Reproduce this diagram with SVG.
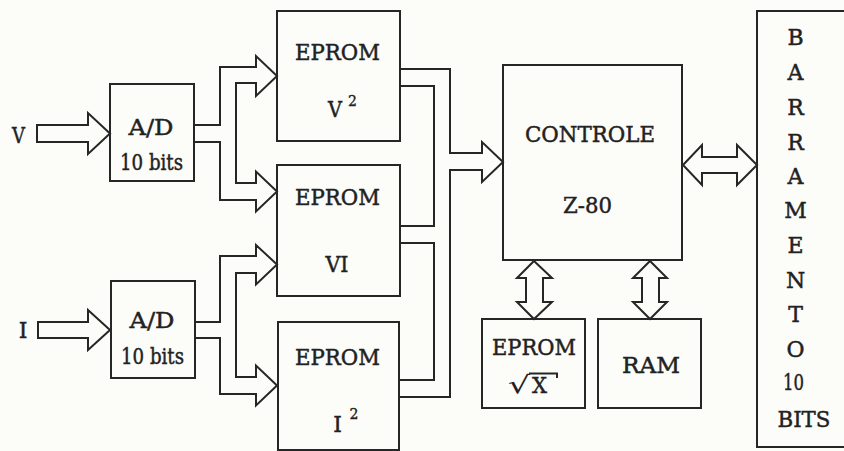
<svg xmlns="http://www.w3.org/2000/svg" width="844" height="451" viewBox="0 0 844 451">
<style>
.box{fill:none;stroke:#262626;stroke-width:2}
.bus{fill:none;stroke:#262626;stroke-width:2;stroke-linejoin:miter}
.t{font-family:"DejaVu Serif","Liberation Serif",serif;font-size:22px;fill:#222;stroke:#222;stroke-width:0.45;text-anchor:middle}
.s{font-family:"DejaVu Serif","Liberation Serif",serif;font-size:14px;fill:#222;stroke:#222;stroke-width:0.35;text-anchor:middle}
.r{font-family:"DejaVu Sans","Liberation Sans",sans-serif;font-size:24px;fill:#222;text-anchor:middle}
</style>
<rect x="0" y="0" width="844" height="451" fill="#fcfcf9"/>
<g id="connectors">
  <path class="bus" d="M37,125 H88 V113 L110,133.5 L88,154 V142 H37 Z"/>
  <path class="bus" d="M38,322 H88 V310 L110,330 L88,350 V338 H38 Z"/>
  <path class="bus" d="M194,125 H220 V67 H256 V56 L277,76 L256,96 V83 H236 V183 H256 V171.5 L277,191.5 L256,211.5 V200 H220 V142 H194"/>
  <path class="bus" d="M195,322 H220 V256 H256 V245 L277,264.5 L256,284.5 V273 H236 V377 H256 V365.5 L277,385.5 L256,405.5 V394 H220 V338 H195"/>
  <path class="bus" d="M400,69 H450 V153 H482 V142 L503,162 L482,182 V170 H450 V397 H400"/>
  <path class="bus" d="M400,86 H434 V226 H400"/>
  <path class="bus" d="M400,243 H434 V380 H400"/>
  <path class="bus" d="M683,165 L702,145 V157 H737 V145 L757,165 L737,185 V173 H702 V185 Z"/>
  <path class="bus" d="M534,261 L552,278 H543 V302 H552 L534,319 L517,302 H526 V278 H517 Z"/>
  <path class="bus" d="M650,261 L667,278 H659 V302 H667 L650,319 L633,302 H642 V278 H633 Z"/>
</g>
<g id="label-V"><text class="t" x="18.5" y="143" textLength="13" lengthAdjust="spacingAndGlyphs">V</text></g>
<g id="label-I"><text class="t" x="23" y="338">I</text></g>
<g id="ad-v">
  <rect class="box" x="110" y="84" width="84" height="97"/>
  <text class="t" x="151" y="135" textLength="45" lengthAdjust="spacingAndGlyphs">A/D</text>
  <text class="t" x="151.5" y="170" textLength="63" lengthAdjust="spacingAndGlyphs">10 bits</text>
</g>
<g id="ad-i">
  <rect class="box" x="111" y="281" width="84" height="97"/>
  <text class="t" x="152" y="328" textLength="45" lengthAdjust="spacingAndGlyphs">A/D</text>
  <text class="t" x="152.5" y="364" textLength="63" lengthAdjust="spacingAndGlyphs">10 bits</text>
</g>
<g id="eprom-v2">
  <rect class="box" x="277" y="11" width="123" height="130"/>
  <text class="t" x="337.5" y="60" textLength="85" lengthAdjust="spacingAndGlyphs">EPROM</text>
  <text class="t" x="335" y="117" textLength="14" lengthAdjust="spacingAndGlyphs">V</text>
  <text class="s" x="352.5" y="106">2</text>
</g>
<g id="eprom-vi">
  <rect class="box" x="277" y="165" width="123" height="131"/>
  <text class="t" x="337.5" y="205" textLength="85" lengthAdjust="spacingAndGlyphs">EPROM</text>
  <text class="t" x="337" y="272" textLength="23" lengthAdjust="spacingAndGlyphs">VI</text>
</g>
<g id="eprom-i2">
  <rect class="box" x="278" y="322" width="121" height="128"/>
  <text class="t" x="337.5" y="365" textLength="85" lengthAdjust="spacingAndGlyphs">EPROM</text>
  <text class="t" x="337.5" y="432">I</text>
  <text class="s" x="354" y="419">2</text>
</g>
<g id="controle">
  <rect class="box" x="503" y="65" width="179" height="195"/>
  <text class="t" x="590" y="142" textLength="130" lengthAdjust="spacingAndGlyphs">CONTROLE</text>
  <text class="t" x="587.5" y="213" textLength="49" lengthAdjust="spacingAndGlyphs">Z-80</text>
</g>
<g id="eprom-sqrt">
  <rect class="box" x="482" y="319" width="103" height="89"/>
  <text class="t" x="534" y="355" textLength="84" lengthAdjust="spacingAndGlyphs">EPROM</text>
  <text class="r" x="519" y="393" textLength="22" lengthAdjust="spacingAndGlyphs">√</text>
  <text class="t" x="539.5" y="393" textLength="15" lengthAdjust="spacingAndGlyphs">X</text>
  <path class="bus" d="M529,373.5 H557 V378" stroke-width="1.8"/>
</g>
<g id="ram">
  <rect class="box" x="598" y="319" width="103" height="89"/>
  <text class="t" x="651" y="373" textLength="58" lengthAdjust="spacingAndGlyphs">RAM</text>
</g>
<g id="barramento">
  <path class="box" d="M846,11 H757 V447 H846"/>
  <text class="t" x="795.5" y="45">B</text>
  <text class="t" x="795.5" y="80">A</text>
  <text class="t" x="795.5" y="115">R</text>
  <text class="t" x="795.5" y="150">R</text>
  <text class="t" x="795.5" y="184">A</text>
  <text class="t" x="795.5" y="218">M</text>
  <text class="t" x="795.5" y="253">E</text>
  <text class="t" x="795.5" y="288">N</text>
  <text class="t" x="795.5" y="322">T</text>
  <text class="t" x="795.5" y="357">O</text>
  <text class="t" x="793.5" y="390" textLength="21" lengthAdjust="spacingAndGlyphs">10</text>
  <text class="t" x="804" y="427" textLength="53" lengthAdjust="spacingAndGlyphs">BITS</text>
</g>
</svg>
